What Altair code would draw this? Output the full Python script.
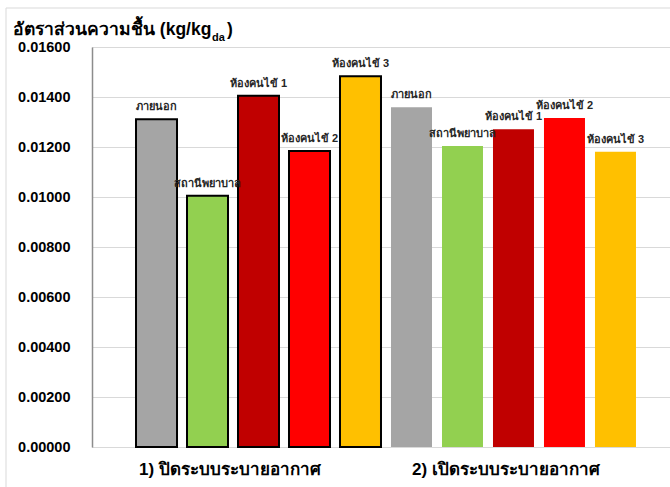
import altair as alt
import pandas as pd

# Moisture ratio per location, for the two ventilation cases
groups = ["1) ปิดระบบระบายอากาศ", "2) เปิดระบบระบายอากาศ"]
locations = ["ภายนอก", "สถานีพยาบาล", "ห้องคนไข้ 1", "ห้องคนไข้ 2", "ห้องคนไข้ 3"]
closed_values = [0.01311, 0.01005, 0.01405, 0.01184, 0.01483]
open_values = [0.01359, 0.01204, 0.01271, 0.01316, 0.01181]
colors = ["#A5A5A5", "#92D050", "#C00000", "#FF0000", "#FFC000"]
y_ticks = [0.0, 0.002, 0.004, 0.006, 0.008, 0.010, 0.012, 0.014, 0.016]

rows = []
for gi, (g, vals) in enumerate(zip(groups, [closed_values, open_values])):
    for loc, v in zip(locations, vals):
        rows.append({"group": g, "gi": gi, "location": loc,
                     "key": f"{gi}|{loc}", "value": v})
df = pd.DataFrame(rows)
keys = list(df["key"])

W, H = 578, 400
FONT = "Liberation Sans"

x_bar = alt.X("key:N", sort=keys, axis=None,
              scale=alt.Scale(domain=keys, paddingInner=0.196,
                              paddingOuter=0.765, align=0.564))
y_val = alt.Y("value:Q",
              scale=alt.Scale(domain=[0, 0.016], nice=False, zero=True),
              axis=alt.Axis(values=y_ticks, format=".5f", title=None,
                            labelFont=FONT, labelFontSize=14.5,
                            labelFontWeight="bold", labelColor="#000000",
                            labelPadding=22, ticks=False,
                            domainColor="#8c8c8c", domainWidth=1.5,
                            gridColor="#d9d9d9", gridWidth=1))
color = alt.Color("location:N", scale=alt.Scale(domain=locations, range=colors),
                  legend=None)

base = alt.Chart(df)

# closed-ventilation bars carry a black outline
bars_closed = base.transform_filter("datum.gi == 0").mark_bar(
    stroke="#000000", strokeWidth=2
).encode(x=x_bar, y=y_val, color=color)

bars_open = base.transform_filter("datum.gi == 1").mark_bar().encode(
    x=x_bar, y=alt.Y("value:Q"), color=color)

labels = base.mark_text(
    font=FONT, fontSize=11, fontWeight="bold", color="#262626",
    baseline="alphabetic", dy=-9
).encode(x=x_bar, y=alt.Y("value:Q"), text="location:N")

bars_layer = alt.layer(bars_closed, bars_open, labels)

group_labels = alt.Chart(pd.DataFrame({"group": groups})).mark_text(
    font=FONT, fontSize=17, fontWeight="bold", color="#000000",
    baseline="middle"
).encode(
    x=alt.X("group:N", axis=None,
            scale=alt.Scale(domain=groups, range=[0, 552],
                            paddingInner=0, paddingOuter=0)),
    y=alt.value(H + 23),
    text="group:N",
)

# outer frame lines
one = pd.DataFrame({"a": [0]})
frame_top = alt.Chart(one).mark_rule(color="#d9d9d9", strokeWidth=1).encode(
    x=alt.value(-86), x2=alt.value(W), y=alt.value(-39))
frame_left = alt.Chart(one).mark_rule(color="#d9d9d9", strokeWidth=1).encode(
    x=alt.value(-86), y=alt.value(-39), y2=alt.value(H + 40))

# axis title with subscript "da"
title_style = dict(font=FONT, fontWeight="bold", color="#000000",
                   align="left", baseline="alphabetic")
title_main = alt.Chart(pd.DataFrame({"t": ["อัตราส่วนความชื้น (kg/kg"]})).mark_text(
    fontSize=17.5, **title_style
).encode(x=alt.value(-79), y=alt.value(-12), text="t:N")
title_sub = alt.Chart(pd.DataFrame({"t": ["da"]})).mark_text(
    fontSize=11, **title_style
).encode(x=alt.value(120), y=alt.value(-6), text="t:N")
title_close = alt.Chart(pd.DataFrame({"t": [")"]})).mark_text(
    fontSize=17.5, **title_style
).encode(x=alt.value(135), y=alt.value(-12), text="t:N")

chart = alt.layer(
    bars_layer, group_labels, frame_top, frame_left,
    title_main, title_sub, title_close
).resolve_scale(
    x="independent"
).properties(
    width=W, height=H,
    padding={"left": 92, "top": 47, "right": 0, "bottom": 40},
    autosize=alt.AutoSizeParams(type="none"),
).configure_view(
    stroke="#a6a6a6", strokeWidth=1.5
).configure(background="#ffffff")

chart.save("out.html", embed_options={"renderer": "svg", "actions": False})
